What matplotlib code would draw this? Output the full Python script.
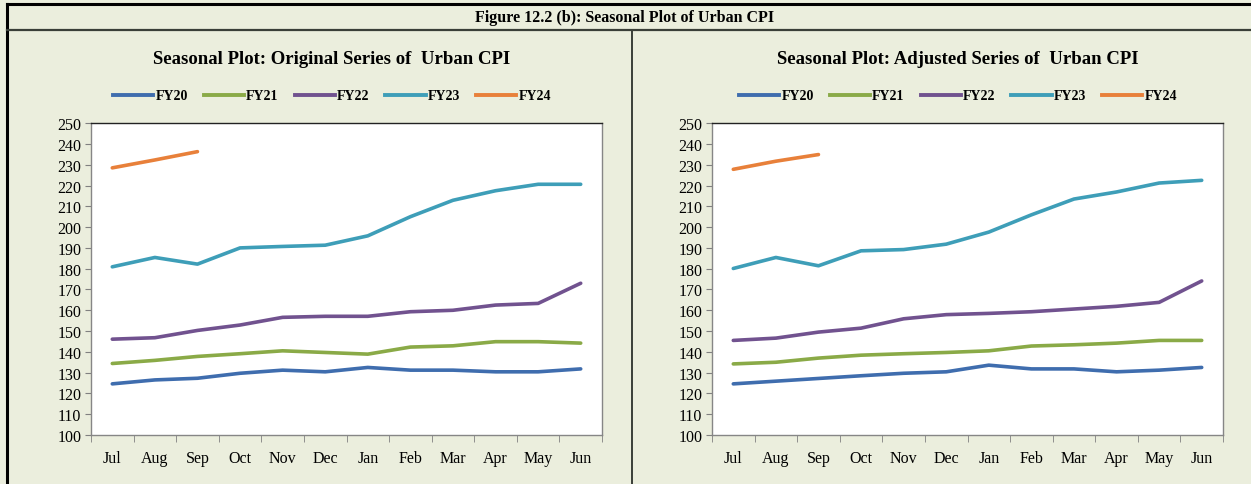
import matplotlib
matplotlib.use("Agg")
import matplotlib.pyplot as plt
from matplotlib.lines import Line2D

# months of the fiscal year (Jul - Jun)
months = ["Jul", "Aug", "Sep", "Oct", "Nov", "Dec",
          "Jan", "Feb", "Mar", "Apr", "May", "Jun"]
series_names = ["FY20", "FY21", "FY22", "FY23", "FY24"]
colors = ["#3F6DAE", "#8AAA47", "#71528F", "#3E9EB8", "#E8803A"]

# original series of urban CPI
orig_fy20 = [124.6, 126.5, 127.3, 129.7, 131.2, 130.4, 132.5, 131.2, 131.2, 130.4, 130.4, 131.8]
orig_fy21 = [134.4, 135.9, 137.8, 139.1, 140.5, 139.7, 138.9, 142.3, 142.9, 144.9, 144.9, 144.2]
orig_fy22 = [146.1, 146.8, 150.3, 152.9, 156.6, 157.1, 157.1, 159.3, 160.0, 162.5, 163.3, 173.0]
orig_fy23 = [180.9, 185.4, 182.2, 190.0, 190.7, 191.3, 195.8, 205.0, 212.9, 217.5, 220.6, 220.6]
orig_fy24 = [228.5, 232.3, 236.3]

# seasonally adjusted series
adj_fy20 = [124.6, 125.9, 127.2, 128.5, 129.7, 130.4, 133.6, 131.8, 131.8, 130.4, 131.2, 132.5]
adj_fy21 = [134.2, 135.0, 137.0, 138.4, 139.1, 139.7, 140.5, 142.8, 143.4, 144.2, 145.5, 145.5]
adj_fy22 = [145.5, 146.6, 149.5, 151.4, 155.9, 157.9, 158.5, 159.3, 160.6, 161.9, 163.8, 174.1]
adj_fy23 = [180.1, 185.4, 181.4, 188.6, 189.2, 191.8, 197.6, 205.9, 213.5, 216.9, 221.2, 222.5]
adj_fy24 = [227.8, 231.7, 234.9]

y_ticks = list(range(100, 251, 10))

bg = "#EBEEDD"
plt.rcParams["font.family"] = ["Liberation Serif", "DejaVu Serif"]

W, H = 1251.0, 485.0
fig = plt.figure(figsize=(12.51, 4.85), dpi=100, facecolor=bg)


def draw_panel(rect, cx, title, data):
    ax = fig.add_axes(rect)
    ax.set_facecolor("white")
    x = list(range(len(months)))
    for name, vals, c in zip(series_names, data, colors):
        ax.plot(x[:len(vals)], vals, color=c, lw=2.6, label=name,
                solid_capstyle="round")
    ax.set_xlim(-0.5, len(months) - 0.5)
    ax.set_ylim(100, 250)
    ax.set_yticks(y_ticks)
    ax.tick_params(axis="y", labelsize=11.5, length=4, color="#808080",
                   pad=3, direction="out")
    # category labels in the middle, ticks between categories
    ax.set_xticks(x)
    ax.set_xticklabels(months, fontsize=11.5)
    ax.set_xticks([i - 0.5 for i in range(len(months) + 1)], minor=True)
    ax.tick_params(axis="x", which="major", length=0, pad=11)
    ax.tick_params(axis="x", which="minor", length=5, color="#808080")
    for s in ax.spines.values():
        s.set_color("#868686")
        s.set_linewidth(1.0)
    ax.spines["top"].set_color("#222222")
    fig.text(cx / W, 1 - 60 / H, title, ha="center", va="center",
             fontsize=13.5, fontweight="bold")
    handles = [Line2D([0], [0], color=c, lw=2.8) for c in colors]
    fig.legend(handles, series_names, loc="center", ncol=5,
               bbox_to_anchor=(cx / W, 1 - 97 / H), frameon=False,
               prop={"size": 10, "weight": "bold"},
               handlelength=2.9, handletextpad=0.15, columnspacing=1.15)
    return ax


draw_panel([91 / W, 0.101, 511 / W, 0.643], 332,
           "Seasonal Plot: Original Series of  Urban CPI",
           [orig_fy20, orig_fy21, orig_fy22, orig_fy23, orig_fy24])
draw_panel([712 / W, 0.101, 511 / W, 0.643], 958,
           "Seasonal Plot: Adjusted Series of  Urban CPI",
           [adj_fy20, adj_fy21, adj_fy22, adj_fy23, adj_fy24])

# frame lines of the figure box
fig.add_artist(Line2D([7 / W, 1.0], [1 - 5 / H, 1 - 5 / H], color="black", lw=2.2))
fig.add_artist(Line2D([7 / W, 7 / W], [0, 1 - 5 / H], color="black", lw=2.2))
fig.add_artist(Line2D([7 / W, 1.0], [1 - 31 / H, 1 - 31 / H], color="#3A3F38", lw=1.6))
fig.add_artist(Line2D([632 / W, 632 / W], [0, 1 - 31 / H], color="#3A3F38", lw=1.4))

fig.text(625 / W, 1 - 18 / H, "Figure 12.2 (b): Seasonal Plot of Urban CPI",
         ha="center", va="center", fontsize=11.5, fontweight="bold")

fig.savefig("out.png", dpi=100, facecolor=bg)
